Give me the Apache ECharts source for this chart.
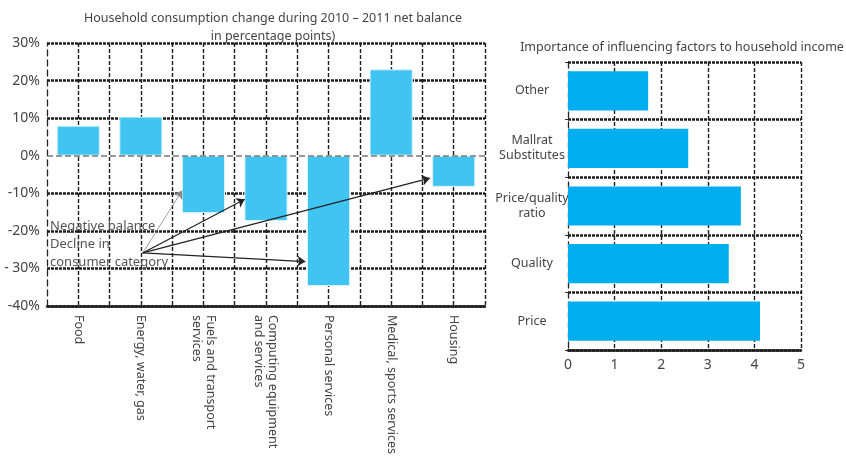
<!DOCTYPE html>
<html><head><meta charset="utf-8">
<script src="https://cdn.jsdelivr.net/npm/echarts@6/dist/echarts.min.js"></script>
<style>html,body{margin:0;padding:0;background:#fff}#c{width:846px;height:457px}</style>
</head><body><div id="c"></div>
<script>
// Left chart data
const categories = ['Food', 'Energy, water, gas', 'Fuels and transport\nservices', 'Computing equipment\nand services', 'Personal services', 'Medical, sports services', 'Housing'];
const changeValues = [8.0, 10.4, -15.3, -17.4, -34.7, 23.0, -8.3];
const yTickLabels = {'30':'30%','20':'20%','10':'10%','0':'0%','-10':'-10%','-20':'-20%','-30':'- 30%','-40':'-40%'};
// annotation arrows (data coords: x in category units 0..7, y in %)
const arrowFrom = [1.53, -25.9];
const arrowTargets = [[2.16, -9.3], [3.16, -11.6], [6.12, -6.0], [4.13, -28.2]];
// Right chart data
const factors = ['Other', 'Mallrat\nSubstitutes', 'Price/quality\nratio', 'Quality', 'Price'];
const importance = [1.72, 2.58, 3.71, 3.45, 4.12];

const FONT = 'Noto Sans';
const TXT = '#444';
const hc = '#1e1e1e';
const hLine = {color: hc, width: 2.6, type: [3, 1]};
const vLine = {color: hc, width: 1.4, type: [4, 2]};

const chart = echarts.init(document.getElementById('c'));
const zeroHide = [hc, hc, hc, hc, 'rgba(0,0,0,0)', hc, hc, hc];

chart.setOption({
  animation: false,
  textStyle: {fontFamily: FONT},
  title: [
    {text: 'Household consumption change during 2010 \u2013 2011 net balance\nin percentage points)', left: 268, top: 4, textAlign: 'center',
     textStyle: {fontFamily: FONT, fontSize: 12.5, fontWeight: 'normal', color: TXT, lineHeight: 18}},
    {text: 'Importance of influencing factors to household income', left: 677, top: 36, textAlign: 'center',
     textStyle: {fontFamily: FONT, fontSize: 12.5, fontWeight: 'normal', color: TXT}}
  ],
  grid: [
    {left: 47, top: 43, width: 438, height: 270},
    {left: 568, top: 62, width: 233, height: 288}
  ],
  xAxis: [
    {type: 'category', gridIndex: 0, data: categories, position: 'bottom',
     axisLine: {onZero: false, lineStyle: hLine}, axisTick: {show: false},
     axisLabel: {rotate: -90, color: TXT, fontSize: 12.5, fontFamily: FONT, margin: 9, lineHeight: 14, interval: 0},
     splitLine: {show: false}},
    {type: 'value', gridIndex: 0, min: 0, max: 7, interval: 0.5, position: 'top',
     axisLine: {show: false}, axisTick: {show: false}, axisLabel: {show: false},
     splitLine: {show: true, showMinLine: false, lineStyle: vLine}},
    {type: 'value', gridIndex: 1, min: 0, max: 5, interval: 1,
     axisLine: {show: true, lineStyle: hLine}, axisTick: {show: false},
     axisLabel: {color: TXT, fontSize: 14, fontFamily: FONT, margin: 8},
     splitLine: {show: true, showMinLine: false, lineStyle: vLine}}
  ],
  yAxis: [
    {type: 'value', gridIndex: 0, min: -40, max: 30, interval: 10,
     axisLine: {show: true, lineStyle: {color: '#222', width: 1.3, type: [6, 4]}}, axisTick: {show: false},
     axisLabel: {color: TXT, fontSize: 14, fontFamily: FONT, margin: 7, formatter: v => yTickLabels[String(v)]},
     splitLine: {show: true, lineStyle: Object.assign({}, hLine, {color: zeroHide})}},
    {type: 'category', gridIndex: 1, data: factors, inverse: true,
     axisLine: {show: true, lineStyle: {color: '#222', width: 1.3, type: [6, 4]}},
     axisTick: {show: true, length: 3, lineStyle: {color: '#333'}},
     axisLabel: {color: TXT, fontSize: 12.5, fontFamily: FONT, margin: 36, align: 'center', lineHeight: 15},
     splitLine: {show: true, lineStyle: hLine}}
  ],
  graphic: [
    {type: 'text', left: 50, top: 217, silent: true, z: 10,
     style: {text: 'Negative balance\nDecline in\nconsumer category', fill: '#555', font: '13px "' + FONT + '"', lineHeight: 18}}
  ],
  series: [
    {type: 'bar', xAxisIndex: 0, yAxisIndex: 0, data: changeValues, barWidth: '69%',
     itemStyle: {color: '#40C4F1', borderColor: '#dff3fb', borderWidth: 1},
     markLine: {silent: true, symbol: 'none', label: {show: false},
       lineStyle: {color: '#777', type: [6, 3], width: 1.5}, data: [{yAxis: 0}]}},
    {type: 'lines', coordinateSystem: 'cartesian2d', xAxisIndex: 1, yAxisIndex: 0, silent: true,
     symbol: ['none', 'arrow'], symbolSize: 8, z: 5,
     lineStyle: {color: '#222', width: 1.2, opacity: 1},
     data: arrowTargets.map((t, i) => ({coords: [arrowFrom, t],
       lineStyle: i === 0 ? {color: '#888', width: 0.8} : undefined}))},
    {type: 'bar', xAxisIndex: 2, yAxisIndex: 1, data: importance, barWidth: '68%',
     itemStyle: {color: '#00ADEE'}}
  ]
});
</script></body></html>
